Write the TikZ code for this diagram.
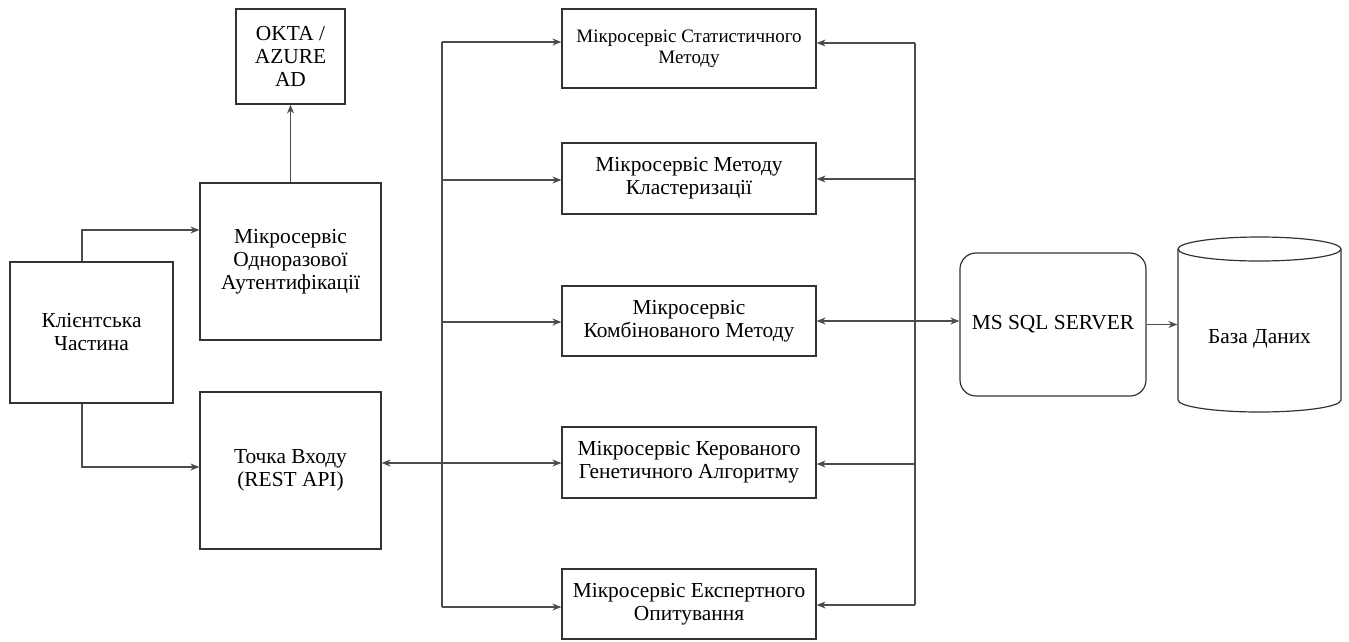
\documentclass[tikz,border=0pt]{standalone}
\usepackage{fontspec}
\setmainfont{Liberation Serif}
\usetikzlibrary{arrows.meta,calc}
\begin{document}
\begin{tikzpicture}[x=1pt,y=-1pt,
  box/.style={draw=black!80,line width=1.2pt,align=center,inner sep=2pt,
    font=\fontsize{21.4}{23}\selectfont},
  arr/.style={draw=black!70,line width=1.2pt,-{Stealth[length=9pt,width=7pt]}},
  dbl/.style={draw=black!70,line width=1.2pt,{Stealth[length=9pt,width=7pt]}-{Stealth[length=9pt,width=7pt]}},
  bus/.style={draw=black!70,line width=1.2pt}]
\useasboundingbox (0,0) rectangle (1349,641);
% left side
\node[box,minimum width=109pt,minimum height=95pt] (okta) at (290.5,56.5) {OKTA /\\AZURE\\AD};
\node[box,minimum width=181pt,minimum height=157pt] (auth) at (290.5,261.5) {Мікросервіс\\Одноразової\\Аутентифікації};
\node[box,minimum width=163pt,minimum height=141pt] (client) at (91.5,332.5) {Клієнтська\\Частина};
\node[box,minimum width=181pt,minimum height=157pt] (entry) at (290.5,470.5) {Точка Входу\\(REST API)};
% microservices
\node[box,minimum width=254pt,minimum height=79pt,font=\fontsize{19}{21}\selectfont] (stat) at (689,48.5) {Мікросервіс Статистичного\\Методу};
\node[box,minimum width=254pt,minimum height=71pt] (clust) at (689,178.5) {Мікросервіс Методу\\Кластеризації};
\node[box,minimum width=254pt,minimum height=70pt] (comb) at (689,321) {Мікросервіс\\Комбінованого Методу};
\node[box,minimum width=254pt,minimum height=71pt] (gen) at (689,462.5) {Мікросервіс Керованого\\Генетичного Алгоритму};
\node[box,minimum width=254pt,minimum height=70pt] (exp) at (689,604) {Мікросервіс Експертного\\Опитування};
% right side
\node[box,rounded corners=16pt,minimum width=186pt,minimum height=143pt] (sql) at (1053,324.5) {MS SQL SERVER};
\node[box,draw=none,minimum width=163pt,minimum height=151pt] (db) at (1259.5,324.5) {};
\node[box,draw=none] (dbtext) at ($(db.center)+(0,14)$) {База Даних};
\draw[draw=black!80,line width=1.2pt] (1259.5,249) ellipse [x radius=81.5,y radius=12];
\draw[draw=black!80,line width=1.2pt] (1178,249) -- (1178,400) arc[start angle=180,end angle=360,x radius=81.5,y radius=-12] -- (1341,249);
% coordinates
\coordinate (cA) at (82,230);
\coordinate (cB) at (82,467);
\coordinate (L1) at (442,42);
\coordinate (L2) at (442,180);
\coordinate (L3) at (442,322);
\coordinate (L4) at (442,463);
\coordinate (L4s) at (455,463);
\coordinate (L5) at (442,607);
\coordinate (R1) at (915,43);
\coordinate (R2) at (915,179);
\coordinate (R4) at (915,464);
\coordinate (R5) at (915,605);
% connectors left
\draw[arr] (auth.north) -- (okta.south);
\draw[arr] (client.north -| cA) |- (auth.west |- cA);
\draw[arr] (client.south -| cB) |- (entry.west |- cB);
% left bus
\draw[bus] (L1) -- (L5);
\draw[arr] (L1) -- (stat.west |- L1);
\draw[arr] (L2) -- (clust.west |- L2);
\draw[arr] (L3) -- (comb.west |- L3);
\draw[arr] (L4) -- (gen.west |- L4);
\draw[arr] (L5) -- (exp.west |- L5);
\draw[arr] (L4s) -- (entry.east |- L4s);
% right bus
\draw[bus] (R1) -- (R5);
\draw[arr] (R1) -- (stat.east |- R1);
\draw[arr] (R2) -- (clust.east |- R2);
\draw[arr] (R4) -- (gen.east |- R4);
\draw[arr] (R5) -- (exp.east |- R5);
\draw[dbl] (comb.east) -- (comb.east -| sql.west);
\draw[arr] (sql.east) -- (sql.east -| db.west);
\end{tikzpicture}
\end{document}
